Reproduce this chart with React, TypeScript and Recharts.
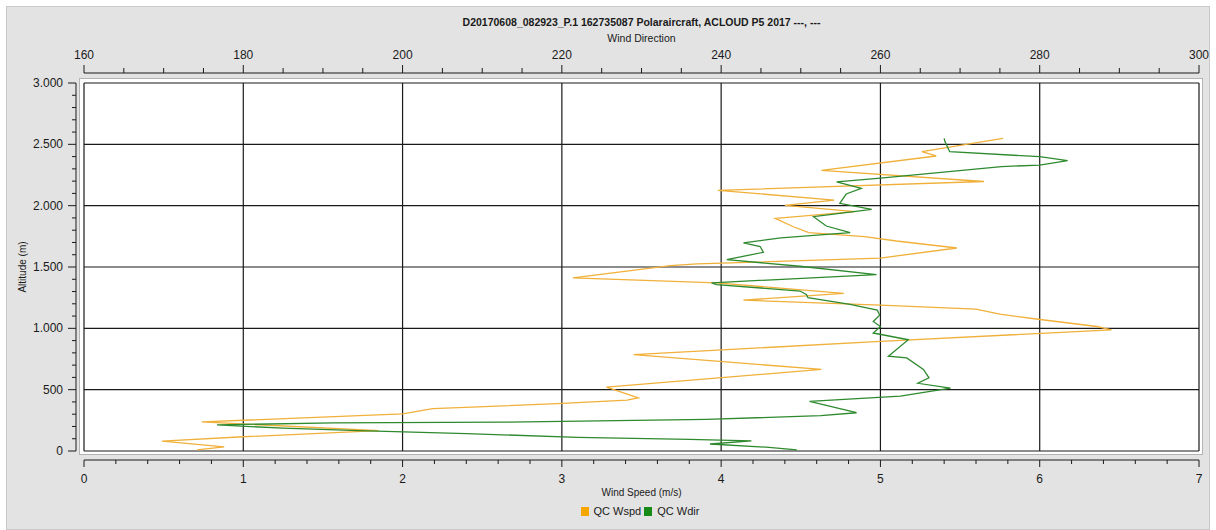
import { ScatterChart, Scatter, XAxis, YAxis, ReferenceLine } from 'recharts';

// Sounding profile: wind speed (bottom axis) and wind direction (top axis) against altitude
const TITLE = 'D20170608_082923_P.1 162735087 Polaraircraft, ACLOUD P5 2017 ---, ---';

const wspdAlt = [
  9, 33, 81, 116, 166, 237, 303, 345, 386, 415, 434, 520, 665, 786, 893, 988, 1015, 1074, 1115,
  1157, 1190, 1230, 1285, 1371, 1411, 1511, 1525, 1573, 1655, 1712, 1748, 1780, 1830, 1896, 1952,
  2003, 2046, 2125, 2197, 2287, 2405, 2441, 2549,
];
const wspdVal = [
  0.71, 0.88, 0.49, 1.0, 1.85, 0.74, 2.0, 2.19, 2.97, 3.41, 3.48, 3.28, 4.63, 3.45, 5.0, 6.45, 6.36,
  5.99, 5.75, 5.6, 5.0, 4.14, 4.77, 3.97, 3.07, 3.68, 3.85, 5.0, 5.48, 5.1, 4.9, 4.55, 4.45, 4.34,
  4.84, 4.4, 4.71, 3.98, 5.65, 4.63, 5.35, 5.26, 5.77,
];

const wdirAlt = [
  10, 30, 57, 82, 94, 111, 142, 166, 186, 213, 229, 235, 257, 289, 312, 405, 448, 512, 552, 597,
  665, 759, 773, 907, 962, 1015, 1056, 1108, 1149, 1196, 1250, 1277, 1304, 1357, 1371, 1438, 1506,
  1560, 1620, 1667, 1696, 1738, 1780, 1834, 1910, 1970, 2019, 2095, 2141, 2194, 2225, 2319, 2331,
  2368, 2399, 2440, 2522, 2549,
];
const wdirVal = [
  249.5, 246, 238.6, 243.8, 236, 222, 208, 194.5, 185, 176.7, 191.3, 212.6, 238.2, 252.5, 257,
  251.1, 262.5, 268.8, 264.7, 266.1, 265.4, 263.3, 261, 263.5, 259.1, 260, 259.1, 259.9, 259.6,
  256.2, 250.9, 250.7, 249.9, 239.4, 238.8, 259.5, 249.9, 240.7, 245.3, 244.9, 242.8, 247.5, 256.2,
  253.2, 251.6, 258.9, 254.9, 255.7, 257.6, 254.5, 260, 275.2, 280, 283.5, 280, 268.7, 268.1, 268,
];

const seriesNames = ['QC Wspd', 'QC Wdir'];
const seriesColors = ['#f0b03a', '#2e8a2e'];
const legendColors = ['#f7a800', '#178a17'];

const speedTicks = Array.from({ length: 36 }, (_, k) => k / 5);
const dirTicks = Array.from({ length: 29 }, (_, k) => 160 + k * 5);
const altTicks = Array.from({ length: 31 }, (_, k) => k * 100);
const speedGrid = [0, 1, 2, 3, 4, 5, 6, 7];
const altGrid = [0, 500, 1000, 1500, 2000, 2500, 3000];

const wspdData = wspdAlt.map((alt, i) => ({ alt, spd: wspdVal[i] }));
const wdirData = wdirAlt.map((alt, i) => ({ alt, dir: wdirVal[i] }));

const FONT = '"Liberation Sans", Arial, Helvetica, sans-serif';
const INK = '#1a1a1a';

const fmtAlt = (v: number) =>
  v >= 1000 ? `${Math.floor(v / 1000)}.${String(v % 1000).padStart(3, '0')}` : String(v);

const SpeedTick = (props: any) => {
  const { x, y, index, payload, width } = props;
  const major = index % 5 === 0;
  const ay = y + 9;
  return (
    <g>
      {index === 0 && <line x1={x} x2={x + width} y1={ay} y2={ay} stroke={INK} />}
      <line x1={x} x2={x} y1={ay} y2={ay + (major ? 7 : 4)} stroke={INK} />
      {major && (
        <text x={x} y={ay + 23} textAnchor="middle" fontSize={12} fontFamily={FONT} fill={INK}>
          {Math.round(payload.value)}
        </text>
      )}
    </g>
  );
};

const DirTick = (props: any) => {
  const { x, y, index, payload, width } = props;
  const major = (payload.value - 160) % 20 === 0;
  const ay = y - 10;
  return (
    <g>
      {index === 0 && <line x1={x} x2={x + width} y1={ay} y2={ay} stroke={INK} />}
      <line x1={x} x2={x} y1={ay} y2={ay - (major ? 8 : 5)} stroke={INK} />
      {major && (
        <text x={x} y={ay - 14} textAnchor="middle" fontSize={12} fontFamily={FONT} fill={INK}>
          {payload.value}
        </text>
      )}
    </g>
  );
};

const AltTick = (props: any) => {
  const { x, y, index, payload, height } = props;
  const major = payload.value % 500 === 0;
  const ax = x - 8;
  return (
    <g>
      {index === 0 && <line x1={ax} x2={ax} y1={y} y2={y - height} stroke={INK} />}
      <line x1={ax} x2={ax - (major ? 8 : 4)} y1={y} y2={y} stroke={INK} />
      {major && (
        <text x={ax - 13} y={y + 4} textAnchor="end" fontSize={12} fontFamily={FONT} fill={INK}>
          {fmtAlt(payload.value)}
        </text>
      )}
    </g>
  );
};

const NoDot = () => <g />;

export default function App() {
  return (
    <div style={{ position: 'absolute', left: 0, top: 0, width: 1216, height: 530, fontFamily: FONT }}>
      <div
        style={{
          position: 'absolute', left: 6, top: 6, width: 1202, height: 522,
          background: '#e3e3e3', border: '1px solid #c9c9c9',
        }}
      />
      <div
        style={{
          position: 'absolute', left: 79, top: 78, width: 1122, height: 375,
          background: '#ffffff', border: '1px solid #b4b4b4',
        }}
      />
      <div style={{ position: 'absolute', left: 0, top: 0, width: 1216, height: 530 }}>
        <ScatterChart width={1216} height={530} margin={{ top: 43, right: 17, bottom: 39, left: 24 }}>
          <XAxis
            xAxisId="spd" type="number" dataKey="spd" domain={[0, 7]} ticks={speedTicks}
            interval={0} height={40} tickSize={0} tickMargin={0} tickLine={false} axisLine={false}
            tick={<SpeedTick />}
          />
          <XAxis
            xAxisId="dir" orientation="top" type="number" dataKey="dir" domain={[160, 300]}
            ticks={dirTicks} interval={0} height={40} tickSize={0} tickMargin={0} tickLine={false}
            axisLine={false} tick={<DirTick />}
          />
          <YAxis
            yAxisId="alt" type="number" dataKey="alt" domain={[0, 3000]} ticks={altTicks}
            interval={0} width={60} tickSize={0} tickMargin={0} tickLine={false} axisLine={false}
            tick={<AltTick />}
          />
          {speedGrid.map((v) => (
            <ReferenceLine key={`gx${v}`} xAxisId="spd" yAxisId="alt" x={v} stroke={INK} strokeWidth={1.2} />
          ))}
          {altGrid.map((v) => (
            <ReferenceLine key={`gy${v}`} xAxisId="spd" yAxisId="alt" y={v} stroke={INK} strokeWidth={1.2} />
          ))}
          <Scatter
            name={seriesNames[0]} data={wspdData} xAxisId="spd" yAxisId="alt" fill={seriesColors[0]}
            shape={NoDot} line={{ stroke: seriesColors[0], strokeWidth: 1.3 }} isAnimationActive={false}
          />
          <Scatter
            name={seriesNames[1]} data={wdirData} xAxisId="dir" yAxisId="alt" fill={seriesColors[1]}
            shape={NoDot} line={{ stroke: seriesColors[1], strokeWidth: 1.3 }} isAnimationActive={false}
          />
        </ScatterChart>
      </div>
      <div style={{ position: 'absolute', left: 84, width: 1115, top: 16, textAlign: 'center', fontSize: 10.5, fontWeight: 'bold', color: INK }}>
        {TITLE}
      </div>
      <div style={{ position: 'absolute', left: 84, width: 1115, top: 32, textAlign: 'center', fontSize: 10.5, color: INK }}>
        Wind Direction
      </div>
      <div style={{ position: 'absolute', left: 84, width: 1115, top: 487, textAlign: 'center', fontSize: 10, color: INK }}>
        Wind Speed (m/s)
      </div>
      <div
        style={{
          position: 'absolute', left: 22, top: 267, transform: 'translate(-50%, -50%) rotate(-90deg)',
          fontSize: 10, color: INK, whiteSpace: 'nowrap',
        }}
      >
        Altitude (m)
      </div>
      <div
        style={{
          position: 'absolute', left: 84, width: 1115, top: 505, display: 'flex',
          justifyContent: 'center', alignItems: 'center', fontSize: 11, color: INK,
        }}
      >
        {seriesNames.map((n, i) => (
          <span key={n} style={{ display: 'inline-flex', alignItems: 'center', marginRight: 3 }}>
            <span style={{ width: 8, height: 9, background: legendColors[i], marginRight: 5 }} />
            {n}
          </span>
        ))}
      </div>
    </div>
  );
}
